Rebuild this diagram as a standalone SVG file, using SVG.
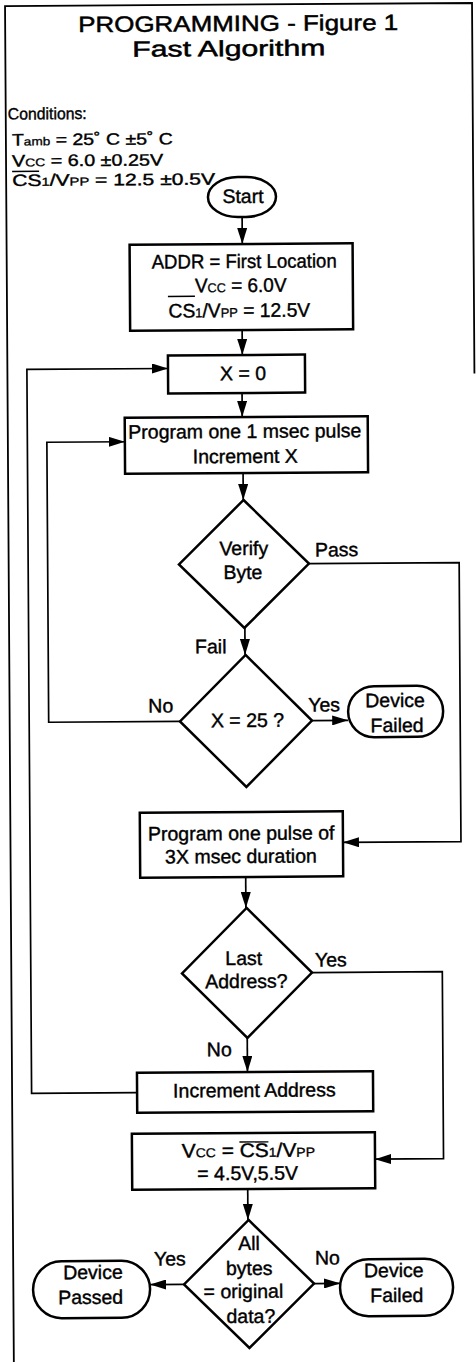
<svg xmlns="http://www.w3.org/2000/svg" width="476" height="1362" viewBox="0 0 476 1362">
<defs>
<style>
text{font-family:"Liberation Sans",Arial,Helvetica,sans-serif;font-size:19.5px;fill:#000;stroke:#000;stroke-width:0.4}
.m{text-anchor:middle}
.t{font-size:22px;stroke-width:0.5}
.cd{font-size:16.5px}
.sm{font-size:13px;stroke-width:0.3}
.cd .sm{font-size:11.5px}
.box{fill:#fff;stroke:#000;stroke-width:2.5}
.ln{fill:none;stroke:#000;stroke-width:1.7}
.ar{marker-end:url(#ah)}
.ob{stroke:#000;stroke-width:1.4;fill:none}
.frame{fill:none;stroke:#000;stroke-width:1.8}
</style>
<marker id="ah" markerUnits="userSpaceOnUse" markerWidth="16" markerHeight="10" viewBox="0 0 16 10" refX="16" refY="5" orient="auto"><path d="M0,0 L16,5 L0,10 Z" fill="#000"/></marker>
</defs>
<rect width="476" height="1362" fill="#fff"/>
<g transform="rotate(-0.372 240 0)">
<path class="frame" d="M5,1380 V4.5 H472 V375"/>

<g id="title">
<text class="t" x="78" y="31" textLength="320" lengthAdjust="spacingAndGlyphs">PROGRAMMING - Figure 1</text>
<text class="t" x="132" y="56" textLength="193" lengthAdjust="spacingAndGlyphs">Fast Algorithm</text>
</g>

<g id="conditions">
<text class="cd" x="7" y="118" textLength="79" lengthAdjust="spacingAndGlyphs">Conditions:</text>
<text class="cd" x="11" y="144" textLength="161" lengthAdjust="spacingAndGlyphs">T<tspan class="sm">amb</tspan> = 25˚ C ±5˚ C</text>
<text class="cd" x="11" y="165" textLength="151" lengthAdjust="spacingAndGlyphs">V<tspan class="sm">CC</tspan> = 6.0 ±0.25V</text>
<text class="cd" x="11" y="184.5" textLength="203" lengthAdjust="spacingAndGlyphs">CS<tspan class="sm">1</tspan>/V<tspan class="sm">PP</tspan> = 12.5 ±0.5V</text>
<line class="ob" x1="11" y1="170" x2="38" y2="170"/>
</g>

<g id="connectors">
<path class="ln ar" d="M240.7,217 V244"/>
<path class="ln ar" d="M240,330 V355"/>
<path class="ln ar" d="M239.5,393 V417"/>
<path class="ln ar" d="M240,473 V500"/>
<path class="ln ar" d="M240.8,628 V655"/>
<path class="ln ar" d="M307.3,721 H343.5"/>
<path class="ln ar" d="M175.3,721 H44 V441 H122"/>
<path class="ln ar" d="M305.3,564 H455.5 V843 H337.5"/>
<path class="ln ar" d="M240,877 V908"/>
<path class="ln ar" d="M305.7,973 H436 V1160 H367.5"/>
<path class="ln ar" d="M240.5,1038 V1072"/>
<path class="ln ar" d="M130,1092 H24.5 V368 H165.6"/>
<path class="ln ar" d="M240,1189 V1220"/>
<path class="ln ar" d="M175.7,1284 H141.7"/>
<path class="ln ar" d="M305.7,1284 H331.7"/>
<text x="311.4" y="557">Pass</text>
<text x="190.8" y="653">Fail</text>
<text x="143.7" y="712">No</text>
<text x="303.7" y="712">Yes</text>
<text x="308.7" y="967">Yes</text>
<text x="200" y="1056">No</text>
<text x="145.8" y="1265">Yes</text>
<text x="306.8" y="1265">No</text>
</g>

<g id="start">
<rect class="box" x="206.7" y="177" width="68" height="40" rx="30" ry="20"/>
<text class="m" x="241.7" y="203">Start</text>
</g>

<g id="addr">
<rect class="box" x="128" y="244" width="223" height="86"/>
<text x="150" y="268" textLength="185" lengthAdjust="spacingAndGlyphs">ADDR = First Location</text>
<text x="193" y="292" textLength="91.7" lengthAdjust="spacingAndGlyphs">V<tspan class="sm">CC</tspan> = 6.0V</text>
<text x="166.5" y="317" textLength="141.7" lengthAdjust="spacingAndGlyphs">CS<tspan class="sm">1</tspan>/V<tspan class="sm">PP</tspan> = 12.5V</text>
<line class="ob" x1="166" y1="296" x2="193" y2="296"/>
</g>

<g id="x0">
<rect class="box" x="165.6" y="355" width="137" height="38"/>
<text class="m" x="240.6" y="380">X = 0</text>
</g>

<g id="prog1">
<rect class="box" x="122" y="417" width="243" height="56"/>
<text x="125.5" y="438" textLength="233" lengthAdjust="spacingAndGlyphs">Program one 1 msec pulse</text>
<text class="m" x="242.3" y="463">Increment X</text>
</g>

<g id="verify">
<polygon class="box" points="240.3,500 305.3,564 240.3,628 175.3,564"/>
<text class="m" x="240.2" y="555">Verify</text>
<text class="m" x="239.2" y="579">Byte</text>
</g>

<g id="x25">
<polygon class="box" points="241.3,655 307.3,721 241.3,787 175.3,721"/>
<text class="m" x="242.8" y="727">X = 25 ?</text>
</g>

<g id="failed1">
<rect class="box" x="343.5" y="687" width="95" height="51" rx="26" ry="25.5"/>
<text class="m" x="390.5" y="708">Device</text>
<text class="m" x="392.4" y="733">Failed</text>
</g>

<g id="prog3x">
<rect class="box" x="134.5" y="812" width="203" height="65"/>
<text class="m" x="235.8" y="840">Program one pulse of</text>
<text class="m" x="235.4" y="863">3X msec duration</text>
</g>

<g id="lastaddr">
<polygon class="box" points="240.7,908 305.7,973 240.7,1038 175.7,973"/>
<text class="m" x="237.5" y="965">Last</text>
<text class="m" x="240" y="988">Address?</text>
</g>

<g id="incaddr">
<rect class="box" x="130" y="1072" width="236" height="40"/>
<text class="m" x="247.3" y="1097">Increment Address</text>
</g>

<g id="vccset">
<rect class="box" x="124.5" y="1133" width="243" height="56"/>
<text x="174.2" y="1157" textLength="133.3" lengthAdjust="spacingAndGlyphs">V<tspan class="sm">CC</tspan> = CS<tspan class="sm">1</tspan>/V<tspan class="sm">PP</tspan></text>
<text class="m" x="240" y="1180">= 4.5V,5.5V</text>
<line class="ob" x1="232" y1="1142" x2="261" y2="1142"/>
</g>

<g id="allbytes">
<polygon class="box" points="240.7,1220 305.7,1284 240.7,1348 175.7,1284"/>
<text class="m" x="241" y="1250">All</text>
<text class="m" x="241" y="1275">bytes</text>
<text class="m" x="235" y="1298">= original</text>
<text class="m" x="242.3" y="1323">data?</text>
</g>

<g id="passed">
<rect class="box" x="24.7" y="1260" width="117" height="57" rx="28.5" ry="28.5"/>
<text class="m" x="84.7" y="1278">Device</text>
<text class="m" x="82.2" y="1303">Passed</text>
</g>

<g id="failed2">
<rect class="box" x="331.7" y="1260" width="113" height="57" rx="28.5" ry="28.5"/>
<text class="m" x="385.5" y="1278">Device</text>
<text class="m" x="388.4" y="1303">Failed</text>
</g>
</g>
</svg>
